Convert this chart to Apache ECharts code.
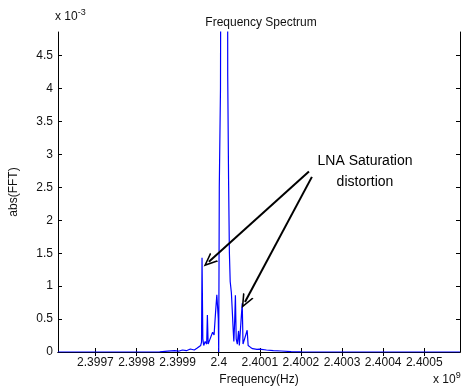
<!DOCTYPE html>
<html>
<head>
<meta charset="utf-8">
<script src="https://cdn.jsdelivr.net/npm/echarts@6/dist/echarts.min.js"></script>
<style>
    html, body { margin: 0; padding: 0; background: #fff; }
    #chart { width: 461px; height: 392px; }
</style>
</head>
<body>
<div id="chart"></div>
<script>
// frequency in MHz, amplitude in units of 1e-3
const freqMHz = [
    2399.609, 2399.8565, 2399.8757, 2399.8926, 2399.9022, 2399.9118, 2399.9214, 2399.931,
    2399.9406, 2399.9478, 2399.9526, 2399.9562, 2399.9582, 2399.9594, 2399.9613, 2399.9635,
    2399.9671, 2399.9707, 2399.9724, 2399.9743, 2399.9779, 2399.9815, 2399.9851, 2399.9887,
    2399.9923, 2399.9954, 2399.9971, 2399.999, 2400.0, 2400.0014, 2400.0043, 2400.0062,
    2400.0137, 2400.0212, 2400.0219, 2400.024, 2400.026, 2400.0279, 2400.0308, 2400.0332,
    2400.0351, 2400.0368, 2400.0387, 2400.0406, 2400.0425, 2400.0452, 2400.0483, 2400.0502,
    2400.0536, 2400.0572, 2400.0591, 2400.0632, 2400.0692, 2400.0716, 2400.0776, 2400.0825,
    2400.0873, 2400.093, 2400.0993, 2400.1161, 2400.1329, 2400.1522, 2400.1762, 2400.2002,
    2400.587
];
const absFFT = [
    0, 0.003, 0.012, 0.02, 0.012, 0.03, 0.02, 0.045,
    0.03, 0.06, 0.04, 0.1, 0.15, 1.43, 0.2, 0.1,
    0.16, 0.12, 0.56, 0.12, 0.18, 0.16, 0.3, 0.26,
    0.6, 0.87, 0.7, 0.5, 0, 2.5, 4, 9,
    12, 9, 4.2, 2.6, 1.5, 1.07, 0.9, 0.6,
    0.35, 0.16, 0.45, 0.86, 0.2, 0.12, 0.32, 0.1,
    0.08, 0.74, 0.12, 0.1, 0.33, 0.1, 0.07, 0.05,
    0.06, 0.04, 0.045, 0.03, 0.02, 0.015, 0.006, 0.002,
    0
];
const xTicks = [2399.7, 2399.8, 2399.9, 2400.0, 2400.1, 2400.2, 2400.3, 2400.4, 2400.5];
const yTicks = [0, 0.5, 1, 1.5, 2, 2.5, 3, 3.5, 4, 4.5];
// arrows: [tail, head] in data units
const arrows = [
    [[2400.2195, 2.74], [2399.976, 1.37]],
    [[2400.2267, 2.66], [2400.0639, 0.76]]
];

const font = 'Liberation Sans, Arial, sans-serif';
const ink = '#000';
const xMin = 2399.609, xMax = 2400.587, yMax = 4.86;

function fmtX(v) {
    return (v / 1000).toFixed(4).replace(/0+$/, '').replace(/\.$/, '');
}

function boxAxis(extra) {
    return Object.assign({
        type: 'value',
        axisLine: { show: true, lineStyle: { color: ink, width: 1 } },
        axisTick: { show: true, inside: true, length: 4, lineStyle: { color: ink } },
        axisLabel: { show: false },
        splitLine: { show: false }
    }, extra);
}

const chart = echarts.init(document.getElementById('chart'), null, { renderer: 'canvas' });
chart.setOption({
    backgroundColor: '#fff',
    animation: false,
    title: {
        text: 'Frequency Spectrum',
        left: 256, textAlign: 'center', top: 12,
        textStyle: { fontFamily: font, fontSize: 12, fontWeight: 'normal', color: '#111' }
    },
    grid: { left: 54, right: 1, top: 32, bottom: 40 },
    xAxis: [
        boxAxis({
            min: xMin, max: xMax,
            name: 'Frequency(Hz)', nameLocation: 'middle', nameGap: 21,
            nameTextStyle: { fontFamily: font, fontSize: 12, color: '#111' },
            axisTick: { show: true, inside: true, length: 4, lineStyle: { color: ink }, customValues: xTicks },
            axisLabel: {
                show: true, customValues: xTicks, formatter: fmtX, margin: 5,
                fontFamily: font, fontSize: 12, color: '#111'
            }
        }),
        boxAxis({
            min: xMin, max: xMax, position: 'top',
            axisTick: { show: true, inside: true, length: 4, lineStyle: { color: ink }, customValues: xTicks }
        })
    ],
    yAxis: [
        boxAxis({
            min: 0, max: yMax,
            name: 'abs(FFT)', nameLocation: 'middle', nameGap: 38, nameRotate: 90,
            nameTextStyle: { fontFamily: font, fontSize: 12, color: '#111' },
            axisTick: { show: true, inside: true, length: 4, lineStyle: { color: ink }, customValues: yTicks },
            axisLabel: {
                show: true, customValues: yTicks, margin: 5,
                fontFamily: font, fontSize: 12, color: '#111'
            }
        }),
        boxAxis({
            min: 0, max: yMax, position: 'right',
            axisTick: { show: true, inside: true, length: 4, lineStyle: { color: ink }, customValues: yTicks }
        })
    ],
    series: [{
        type: 'line',
        data: freqMHz.map((f, i) => [f, absFFT[i]]),
        showSymbol: false,
        clip: true,
        lineStyle: { color: '#0000ff', width: 1.2 },
        markLine: {
            silent: true,
            symbol: ['none', 'path://M0,0 L7,16 L5,16 L0,4.5 L-5,16 L-7,16 Z'],
            symbolSize: [12, 14],
            label: { show: false },
            lineStyle: { color: ink, width: 2, type: 'solid' },
            itemStyle: { color: ink },
            data: arrows.map(a => [{ coord: a[0] }, { coord: a[1] }])
        }
    }],
    graphic: [
        {
            type: 'text', left: 55, top: 8,
            style: {
                text: '{b|x 10}{s|-3}', fontFamily: font, fill: '#111',
                rich: {
                    b: { fontSize: 12, fontFamily: font, verticalAlign: 'bottom' },
                    s: { fontSize: 9, fontFamily: font, verticalAlign: 'top', padding: [0, 0, 6, 0] }
                }
            }
        },
        {
            type: 'text', left: 433, top: 371,
            style: {
                text: '{b|x 10}{s|9}', fontFamily: font, fill: '#111',
                rich: {
                    b: { fontSize: 12, fontFamily: font, verticalAlign: 'bottom' },
                    s: { fontSize: 9, fontFamily: font, verticalAlign: 'top', padding: [0, 0, 6, 0] }
                }
            }
        },
        {
            type: 'text', x: 365, y: 151,
            style: {
                text: 'LNA Saturation\ndistortion', align: 'center', lineHeight: 21,
                fontFamily: font, fontSize: 14, fill: '#000'
            }
        }
    ]
});
</script>
</body>
</html>
